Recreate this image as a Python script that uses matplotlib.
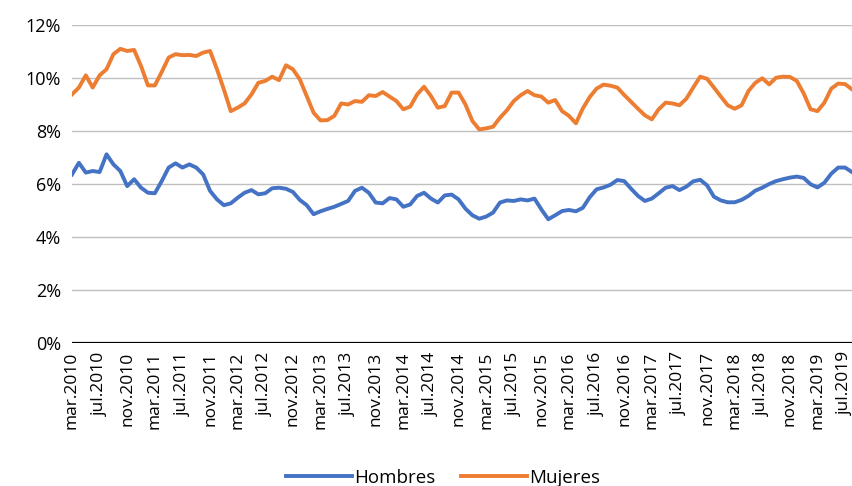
import numpy as np
import matplotlib
matplotlib.use("Agg")
import matplotlib.pyplot as plt

plt.rcParams['font.family'] = ['Open Sans', 'DejaVu Sans']

# monthly series, mar.2010 - aug.2019 (%)
hombres = [6.36, 6.80, 6.43, 6.49, 6.45, 7.12, 6.74, 6.49, 5.92, 6.18,
           5.86, 5.67, 5.65, 6.11, 6.62, 6.78, 6.62, 6.74, 6.62, 6.36,
           5.74, 5.42, 5.20, 5.27, 5.48, 5.67, 5.77, 5.61, 5.65, 5.84,
           5.86, 5.82, 5.70, 5.40, 5.20, 4.86, 4.97, 5.06, 5.14, 5.25,
           5.36, 5.74, 5.86, 5.67, 5.30, 5.27, 5.47, 5.42, 5.14, 5.23,
           5.55, 5.67, 5.45, 5.30, 5.57, 5.60, 5.42, 5.07, 4.82, 4.69,
           4.77, 4.92, 5.30, 5.38, 5.36, 5.42, 5.38, 5.45, 5.04, 4.67,
           4.82, 4.98, 5.02, 4.97, 5.10, 5.50, 5.80, 5.87, 5.97, 6.15,
           6.11, 5.82, 5.55, 5.36, 5.45, 5.65, 5.86, 5.92, 5.77, 5.90,
           6.10, 6.16, 5.95, 5.52, 5.38, 5.31, 5.31, 5.40, 5.55, 5.75,
           5.86, 6.00, 6.11, 6.18, 6.24, 6.28, 6.23, 5.99, 5.87, 6.05,
           6.39, 6.62, 6.62, 6.45]

mujeres = [9.38, 9.64, 10.10, 9.64, 10.10, 10.33, 10.90, 11.10, 11.02, 11.06,
           10.45, 9.72, 9.72, 10.23, 10.77, 10.90, 10.86, 10.87, 10.83, 10.96,
           11.02, 10.33, 9.57, 8.75, 8.88, 9.04, 9.38, 9.82, 9.89, 10.05,
           9.92, 10.48, 10.33, 9.95, 9.32, 8.69, 8.40, 8.41, 8.57, 9.04,
           9.00, 9.13, 9.10, 9.35, 9.32, 9.47, 9.30, 9.13, 8.82, 8.92,
           9.38, 9.67, 9.32, 8.88, 8.94, 9.45, 9.45, 9.00, 8.38, 8.06,
           8.10, 8.16, 8.50, 8.78, 9.13, 9.35, 9.51, 9.35, 9.30, 9.07,
           9.17, 8.75, 8.57, 8.29, 8.85, 9.28, 9.60, 9.75, 9.71, 9.64,
           9.36, 9.10, 8.84, 8.59, 8.44, 8.82, 9.07, 9.04, 8.97, 9.22,
           9.64, 10.05, 9.97, 9.64, 9.30, 8.97, 8.84, 8.97, 9.51, 9.82,
           9.99, 9.76, 10.01, 10.05, 10.04, 9.89, 9.42, 8.82, 8.75, 9.07,
           9.60, 9.79, 9.77, 9.57]

tick_labels = ['mar.2010', 'jul.2010', 'nov.2010', 'mar.2011', 'jul.2011', 'nov.2011',
               'mar.2012', 'jul.2012', 'nov.2012', 'mar.2013', 'jul.2013', 'nov.2013',
               'mar.2014', 'jul.2014', 'nov.2014', 'mar.2015', 'jul.2015', 'nov.2015',
               'mar.2016', 'jul.2016', 'nov.2016', 'mar.2017', 'jul.2017', 'nov.2017',
               'mar.2018', 'jul.2018', 'nov.2018', 'mar.2019', 'jul.2019']

y_ticks = [0, 2, 4, 6, 8, 10, 12]

x = np.arange(len(hombres))

fig = plt.figure(figsize=(8.53, 4.86), dpi=100)
ax = fig.add_axes([72/853, 1-343/486, 780/853, 318/486])

for yv in y_ticks[1:]:
    ax.axhline(yv, color='#bfbfbf', linewidth=1.0, zorder=0)
ax.axhline(0, color='black', linewidth=1.6, zorder=1)

ax.plot(x, hombres, color='#4472c4', linewidth=2.8, label='Hombres',
        solid_joinstyle='round', zorder=3)
ax.plot(x, mujeres, color='#ed7d31', linewidth=2.8, label='Mujeres',
        solid_joinstyle='round', zorder=3)

ax.set_xlim(0, len(hombres) - 1)
ax.set_ylim(0, 12)
ax.set_yticks(y_ticks)
ax.set_yticklabels(['%d%%' % v for v in y_ticks], fontsize=13)
ax.set_xticks(x[::4])
ax.set_xticklabels(tick_labels, rotation=90, fontsize=12.5)
ax.tick_params(axis='both', length=0, pad=8)
ax.tick_params(axis='x', pad=6)
for s in ax.spines.values():
    s.set_visible(False)

fig.legend(loc='center', bbox_to_anchor=(443/853, 1-478/486), ncol=2,
           frameon=False, fontsize=13.5, handlelength=3.5, handletextpad=0.1,
           columnspacing=1.4)

fig.savefig('out.png', dpi=100)
